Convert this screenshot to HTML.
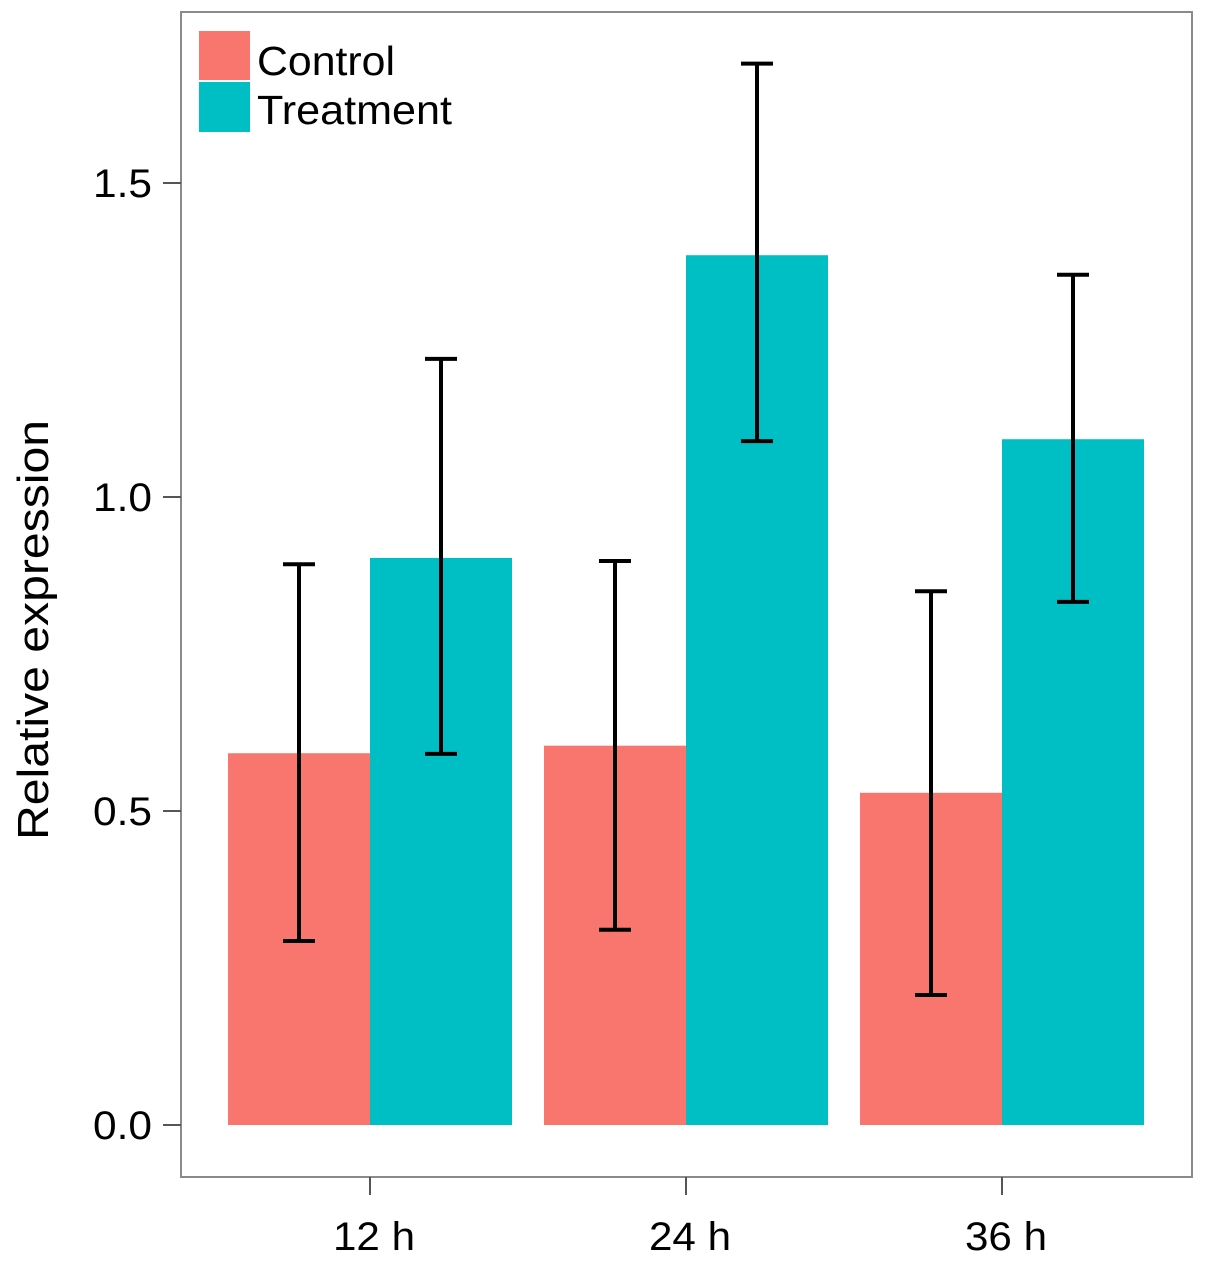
<!DOCTYPE html>
<html><head><meta charset="utf-8"><style>body{margin:0;background:#fff}svg{display:block}text{font-family:"Liberation Sans",sans-serif;fill:#000}</style></head>
<body>
<svg id="chart" width="1205" height="1261" viewBox="0 0 1205 1261" xmlns="http://www.w3.org/2000/svg">
<rect x="181" y="12" width="1011" height="1165" fill="#fff" stroke="#8a8a8a" stroke-width="2"/>
<g id="yaxis"></g><g id="xaxis"></g><g id="bars"></g><g id="errs"></g>
<text transform="translate(48,630) rotate(-90)" text-anchor="middle" font-size="44" textLength="420" lengthAdjust="spacingAndGlyphs">Relative expression</text>
<g>
<rect x="199" y="31" width="51" height="49" fill="#F8766D"/>
<rect x="199" y="82" width="51" height="50" fill="#00BFC4"/>
<text x="257" y="75" font-size="41" textLength="138" lengthAdjust="spacingAndGlyphs">Control</text>
<text x="257" y="124" font-size="41" textLength="195" lengthAdjust="spacingAndGlyphs">Treatment</text>
</g>
</svg>
<script>
const categories=["12 h","24 h","36 h"];
const controlValues=[0.592,0.604,0.529];
const treatmentValues=[0.903,1.385,1.092];
const controlLow=[0.293,0.311,0.207];
const controlHigh=[0.893,0.898,0.850];
const treatmentLow=[0.591,1.089,0.833];
const treatmentHigh=[1.220,1.690,1.354];
const yTicks=[0,0.5,1.0,1.5];
const yTickLabels=["0.0","0.5","1.0","1.5"];
const NS="http://www.w3.org/2000/svg";
const y=v=>1125-v*628;
const xc=i=>370+i*316;
const bw=142;
function mk(t,a,p){const e=document.createElementNS(NS,t);for(const k in a)e.setAttribute(k,a[k]);document.getElementById(p).appendChild(e);return e;}
yTicks.forEach((v,i)=>{
 const l=mk('line',{x1:163,x2:181,y1:y(v),y2:y(v),stroke:'#555','stroke-width':2},'yaxis');
 
 
 const t=mk('text',{x:152,y:y(v)+14,'text-anchor':'end','font-size':40,textLength:59,lengthAdjust:'spacingAndGlyphs'},'yaxis');t.textContent=yTickLabels[i];
 
 
});
categories.forEach((c,i)=>{
 const l=mk('line',{x1:xc(i),x2:xc(i),y1:1177,y2:1195,stroke:'#555','stroke-width':2},'xaxis');
 
 
 const t=mk('text',{x:xc(i)+4,y:1250,'text-anchor':'middle','font-size':40,textLength:82,lengthAdjust:'spacingAndGlyphs'},'xaxis');t.textContent=c;
 
 
 const b1=mk('rect',{x:xc(i)-bw,y:y(controlValues[i]),width:bw,height:y(0)-y(controlValues[i]),fill:'#F8766D'},'bars');
 
 
 const b2=mk('rect',{x:xc(i),y:y(treatmentValues[i]),width:bw,height:y(0)-y(treatmentValues[i]),fill:'#00BFC4'},'bars');
 
 
 [[xc(i)-bw/2,controlLow[i],controlHigh[i]],[xc(i)+bw/2,treatmentLow[i],treatmentHigh[i]]].forEach(([cx,lo,hi])=>{
  const g=mk('path',{d:`M${cx},${y(lo)}V${y(hi)}M${cx-16},${y(lo)}H${cx+16}M${cx-16},${y(hi)}H${cx+16}`,stroke:'#000','stroke-width':4,fill:'none'},'errs');
  
  
 });
});
</script>
</body></html>
